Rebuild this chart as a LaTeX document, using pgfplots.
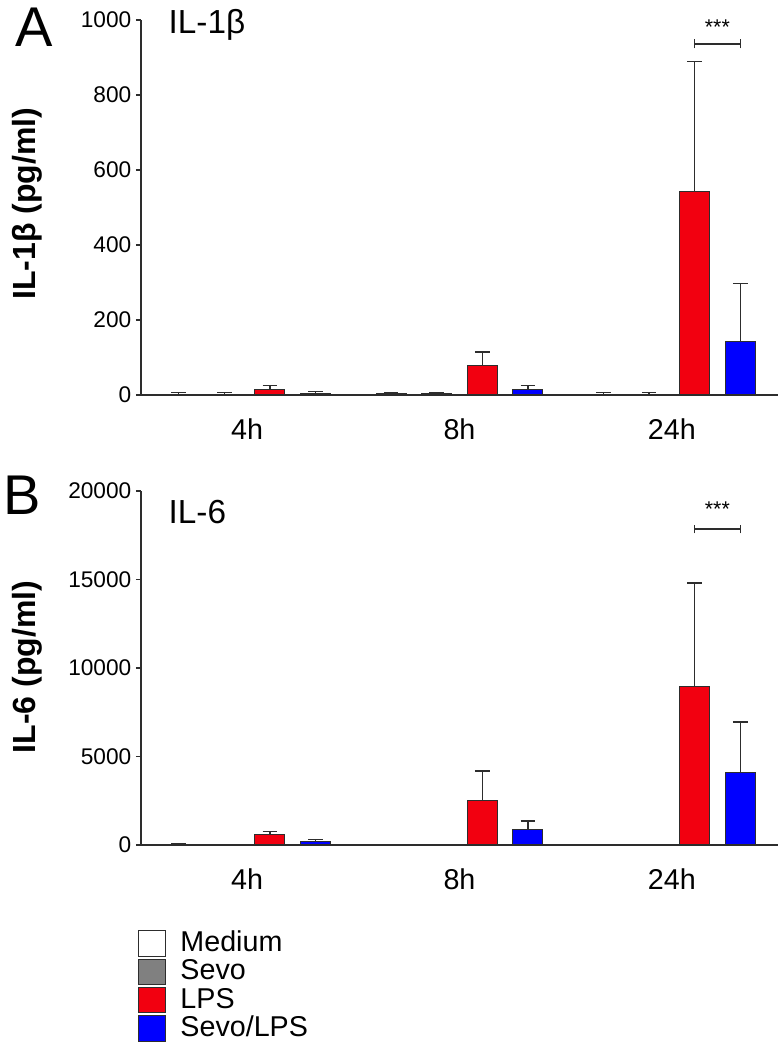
\documentclass[border=0pt]{standalone}
\usepackage{fontspec}
\setmainfont{Liberation Sans}
\usepackage{pgfplots}
\pgfplotsset{compat=1.18}
\definecolor{lpsred}{RGB}{242,0,16}
\definecolor{sevogray}{RGB}{128,128,128}
\definecolor{sevoblue}{RGB}{0,0,255}
\definecolor{axgray}{RGB}{45,45,45}

\pgfplotsset{
  panel/.style={
    scale only axis, width=477.75pt,
    xmin=-0.5, xmax=2.5, ymin=0,
    axis x line=bottom, axis y line=left,
    axis line style={-, axgray, line width=0.9pt},
    xtick={0,1,2}, xticklabels={4h,8h,24h},
    major x tick style={draw=none},
    x tick label style={font=\fontsize{21.5}{25}\selectfont, yshift=-10.5pt},
    y tick label style={font=\fontsize{17}{20}\selectfont},
    tick align=outside, major tick length=3.75pt,
    ytick style={axgray, line width=0.9pt},
    /pgf/number format/assume math mode=true,
    scaled y ticks=false,
    /pgf/number format/1000 sep={},
    ylabel style={font=\fontsize{24}{28}\selectfont\bfseries, anchor=center},
    ybar, bar width=0.1415, bar shift=0pt,
    clip=false,
    every axis plot/.append style={draw=axgray, line width=0.8pt},
    error bars/y dir=plus, error bars/y explicit,
    error bars/error bar style={axgray, line width=1pt},
    error bars/error mark options={axgray, line width=1pt, mark size=5.5pt, rotate=90},
  }
}

\begin{document}
\begin{tikzpicture}
\path[use as bounding box] (0,0) rectangle (587.25pt,787.5pt);

% Panel A
\begin{axis}[panel,
  at={(105.75pt,491.25pt)}, anchor=south west,
  height=281.25pt, ymax=1000,
  ytick={0,200,400,600,800,1000},
  ylabel={IL-1β (pg/ml)},
  ylabel style={at={(axis description cs:-0.178,0.510)}},
]
\addplot[fill=white] coordinates {(-0.322,2) +- (0,5) (0.678,3) +- (0,4) (1.678,2) +- (0,5)};
\addplot[fill=sevogray] coordinates {(-0.107,2) +- (0,4) (0.893,3) +- (0,2) (1.893,2) +- (0,4)};
\addplot[fill=lpsred] coordinates {(0.107,14) +- (0,11) (1.107,78) +- (0,37) (2.107,543) +- (0,347)};
\addplot[fill=sevoblue] coordinates {(0.322,4) +- (0,5) (1.322,14) +- (0,11) (2.322,142) +- (0,155)};
\draw[axgray, line width=1pt] (axis cs:2.107,936) -- (axis cs:2.322,936);
\draw[axgray, line width=1pt] (axis cs:2.107,924) -- (axis cs:2.107,948);
\draw[axgray, line width=1pt] (axis cs:2.322,924) -- (axis cs:2.322,948);
\node[font=\fontsize{16}{18}\selectfont] at (axis cs:2.2145,982) {***};
\node[anchor=west, font=\fontsize{25}{30}\selectfont] at (axis description cs:0.036,0.988) {IL-1β};
\node[font=\fontsize{42}{48}\selectfont] at (axis description cs:-0.167,0.982) {A};
\end{axis}

% Panel B
\begin{axis}[panel,
  at={(105.75pt,153.75pt)}, anchor=south west,
  height=265.5pt, ymax=20000,
  ytick={0,5000,10000,15000,20000},
  ylabel={IL-6 (pg/ml)},
  ylabel style={at={(axis description cs:-0.178,0.503)}},
  legend style={at={(axis description cs:-0.005,-0.24)}, anchor=north west,
    draw=none, fill=none, font=\fontsize{21.5}{23}\selectfont,
    row sep=1.5pt, column sep=11pt, inner sep=0pt,
    nodes={inner sep=0pt, text height=15.5pt, text depth=3.5pt}},
  legend cell align=left,
  legend image code/.code={\draw[#1, line width=0.8pt] (0pt,-9.5pt) rectangle (20pt,9.5pt);},
]
\addplot[fill=white] coordinates {(-0.322,30) +- (0,30) (0.678,10) +- (0,5) (1.678,10) +- (0,5)};
\addplot[fill=sevogray] coordinates {(-0.107,15) +- (0,10) (0.893,10) +- (0,5) (1.893,10) +- (0,5)};
\addplot[fill=lpsred] coordinates {(0.107,580) +- (0,170) (1.107,2540) +- (0,1640) (2.107,8950) +- (0,5850)};
\addplot[fill=sevoblue] coordinates {(0.322,180) +- (0,140) (1.322,900) +- (0,460) (2.322,4120) +- (0,2830)};
\legend{Medium,Sevo,LPS,Sevo/LPS}
\draw[axgray, line width=1pt] (axis cs:2.107,17850) -- (axis cs:2.322,17850);
\draw[axgray, line width=1pt] (axis cs:2.107,17600) -- (axis cs:2.107,18100);
\draw[axgray, line width=1pt] (axis cs:2.322,17600) -- (axis cs:2.322,18100);
\node[font=\fontsize{16}{18}\selectfont] at (axis cs:2.2145,18950) {***};
\node[anchor=west, font=\fontsize{25}{30}\selectfont] at (axis description cs:0.036,0.941) {IL-6};
\node[font=\fontsize{42}{48}\selectfont] at (axis description cs:-0.187,0.989) {B};
\end{axis}
\end{tikzpicture}
\end{document}
